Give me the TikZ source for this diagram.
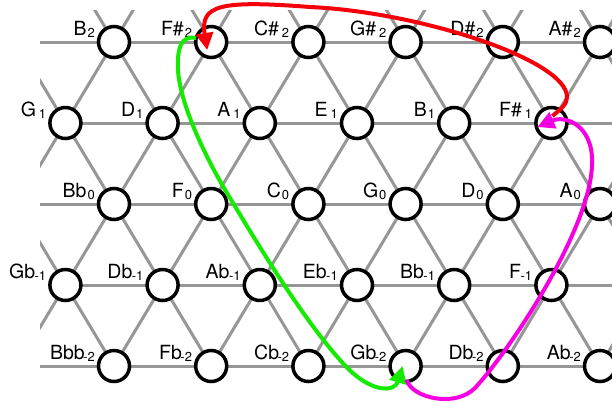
\documentclass[tikz,border=0pt]{standalone}
\usepackage{fontspec}
\setmainfont{TeX Gyre Heros}
\usetikzlibrary{arrows.meta,calc}
\definecolor{gridgray}{RGB}{150,150,150}
\definecolor{arrgreen}{RGB}{20,235,0}
\definecolor{arrmag}{RGB}{245,0,225}
\definecolor{arrred}{RGB}{245,0,10}
\newcommand{\nlab}[2]{#1\kern1bp\raisebox{-2bp}{\fontsize{13bp}{13bp}\selectfont #2}}
\newcommand{\pn}[5]{\node[pc] (#1) at (#2,#3) {}; \node[nl] (#1l) at ($(#1)+(-19,-7)$) {\nlab{#4}{#5}};}
\begin{document}
\begin{tikzpicture}[x=1bp,y=-1bp,
  pc/.style={circle,draw=black,fill=white,line width=3.5bp,minimum size=31bp,inner sep=0pt},
  nl/.style={anchor=base east,inner sep=0pt,font=\fontsize{19.5bp}{19.5bp}\selectfont},
  gridline/.style={draw=gridgray,line width=3bp},
  conn/.style={line width=4bp,-{Triangle[length=17bp,width=17bp]}}]
\useasboundingbox (0,0) rectangle (612,401);

% lattice
\begin{scope}
\clip (40,10) rectangle (612,366);
\foreach \k in {-6,...,8} {
  \draw[gridline] ({114+97.2*\k-0.6*42},0) -- ({114+97.2*\k+0.6*(400-42)},400);
  \draw[gridline] ({114+97.2*\k+0.6*42},0) -- ({114+97.2*\k-0.6*(400-42)},400);
}
\end{scope}
\draw[gridline] (40,42) -- (612,42);
\draw[gridline] (65.4,123) -- (612,123);
\draw[gridline] (40,204) -- (612,204);
\draw[gridline] (65.4,285) -- (612,285);
\draw[gridline] (40,366) -- (612,366);

% row 1
\pn{r1c1}{114}{42}{B}{2}
\pn{r1c2}{211.2}{42}{F\#}{2}
\pn{r1c3}{308.4}{42}{C\#\kern2bp}{2}
\pn{r1c4}{405.6}{42}{G\#\kern2bp}{2}
\pn{r1c5}{502.8}{42}{D\#}{2}
\pn{r1c6}{600}{42}{A\#}{2}
% row 2
\pn{r2c1}{65.4}{123}{G\kern2bp}{1}
\pn{r2c2}{162.6}{123}{D}{1}
\pn{r2c3}{259.8}{123}{A\kern2bp}{1}
\pn{r2c4}{357}{123}{E\kern2bp}{1}
\pn{r2c5}{454.2}{123}{B}{1}
\pn{r2c6}{551.4}{123}{F\#\kern2bp}{1}
% row 3
\pn{r3c1}{114}{204}{Bb}{0}
\pn{r3c2}{211.2}{204}{F}{0}
\pn{r3c3}{308.4}{204}{C}{0}
\pn{r3c4}{405.6}{204}{G}{0}
\pn{r3c5}{502.8}{204}{D}{0}
\pn{r3c6}{600}{204}{A}{0}
% row 4
\pn{r4c1}{65.4}{285}{Gb}{\kern-1.5bp-1}
\pn{r4c2}{162.6}{285}{Db}{\kern-1.5bp-1}
\pn{r4c3}{259.8}{285}{Ab}{\kern-1.5bp-1}
\pn{r4c4}{357}{285}{Eb}{\kern-1.5bp-1}
\pn{r4c5}{454.2}{285}{Bb}{\kern-1.5bp-1}
\pn{r4c6}{551.4}{285}{F}{\kern-1.5bp-1}
% row 5
\pn{r5c1}{114}{366}{Bbb}{\kern-2.5bp-2}
\pn{r5c2}{211.2}{366}{Fb}{\kern-2.5bp-2}
\pn{r5c3}{308.4}{366}{Cb}{\kern-2.5bp-2}
\pn{r5c4}{405.6}{366}{Gb}{\kern-2.5bp-2}
\pn{r5c5}{502.8}{366}{Db}{\kern-2.5bp-2}
\pn{r5c6}{600}{366}{Ab}{\kern-2.5bp-2}

% arrows
\draw[conn,draw=arrgreen] ($(r1c2)+(-15,-4)$) .. controls (181,35) and (177,48) .. (178,70)
  .. controls (180,105) and (207,160) .. (227,193)
  .. controls (254,238) and (300,315) .. (340,360)
  .. controls (370,395) and (395,392) .. ($(r5c4)+(-3,0)$);
\draw[conn,draw=arrmag] ($(r5c4)+(1,14)$) .. controls (412,398) and (455,408) .. (475,388)
  .. controls (510,350) and (590,230) .. (592,165)
  .. controls (594,125) and (565,115) .. ($(r2c6)+(-14,4)$);
\draw[conn,draw=arrred] ($(r2c6)+(1,-7)$) .. controls (562,108) and (567,104) .. (567,97)
  .. controls (567,60) and (420,12) .. (310,7)
  .. controls (220,0) and (200,5) .. ($(r1c2)+(-4,8)$);
\end{tikzpicture}
\end{document}
